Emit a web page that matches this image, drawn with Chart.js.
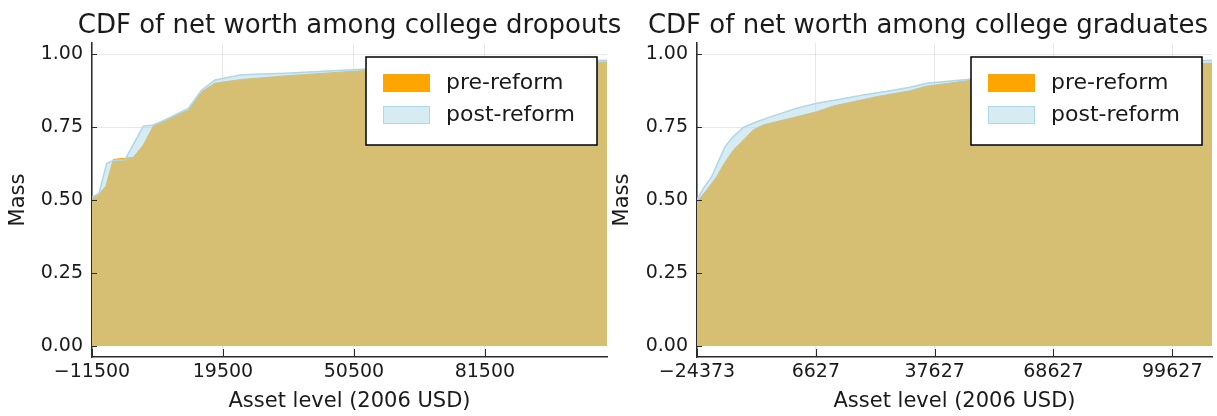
<!DOCTYPE html>
<html>
<head>
<meta charset="utf-8">
<title>CDF of net worth</title>
<script src="https://cdn.jsdelivr.net/npm/chart.js@4.4.1/dist/chart.umd.min.js"></script>
<style>
  html, body { margin: 0; padding: 0; background: #ffffff; }
  #wrap { position: relative; width: 1217px; height: 416px; overflow: hidden; }
  canvas { position: absolute; top: 0; }
  #dropouts { left: 0; z-index: 1; }
  #graduates { left: 608px; z-index: 2; }
</style>
</head>
<body>
<div id="wrap">
  <canvas id="dropouts" width="640" height="416"></canvas>
  <canvas id="graduates" width="609" height="416"></canvas>
</div>
<script>
// ---- data: cumulative mass by asset level (2006 USD) ----
const dropoutPreAssets  = [-11500, -9600, -8260, -6460, -3690, -1730, 640, 2990, 5780, 11290, 14460, 17610, 23920, 34170, 52320, 70000, 90000, 110400];
const dropoutPreMass    = [0.509, 0.525, 0.546, 0.639, 0.643, 0.646, 0.688, 0.753, 0.774, 0.808, 0.871, 0.900, 0.913, 0.925, 0.943, 0.955, 0.965, 0.973];
const dropoutPostAssets = [-11500, -9900, -8020, -6460, -3690, 640, 2990, 5780, 11290, 14460, 17610, 23920, 34170, 52320, 70000, 90000, 110400];
const dropoutPostMass   = [0.511, 0.520, 0.626, 0.635, 0.638, 0.753, 0.757, 0.774, 0.814, 0.877, 0.911, 0.929, 0.934, 0.948, 0.962, 0.972, 0.979];

const graduatePreAssets  = [-24373, -21840, -19230, -17510, -14900, -12290, -9680, -7070, -1850, 2500, 6860, 11190, 17300, 22520, 31200, 35560, 46000, 70000, 90000, 110000];
const graduatePreMass    = [0.494, 0.534, 0.580, 0.620, 0.671, 0.705, 0.740, 0.757, 0.774, 0.788, 0.802, 0.822, 0.839, 0.854, 0.874, 0.890, 0.908, 0.940, 0.958, 0.969];
const graduatePostAssets = [-24373, -22730, -20540, -17070, -14900, -12290, -8795, -4460, 1640, 6860, 12940, 19020, 26000, 31200, 35560, 46000, 70000, 90000, 110000];
const graduatePostMass   = [0.500, 0.540, 0.580, 0.683, 0.717, 0.749, 0.768, 0.788, 0.814, 0.831, 0.845, 0.860, 0.874, 0.886, 0.900, 0.913, 0.952, 0.968, 0.979];

// ---- tick labels ----
const dropoutAssetTicks  = [-11500, 19500, 50500, 81500];
const graduateAssetTicks = [-24373, 6627, 37627, 68627, 99627];
const massTicks = [0, 0.25, 0.5, 0.75, 1.0];

const seriesLabels = ['pre-reform', 'post-reform'];

// ---- styling ----
const FONT = "'DejaVu Sans', 'Liberation Sans', sans-serif";
const TEXT = '#1a1a1a';
const AXIS = '#2b2b2b';
const GRID = 'rgba(0,0,0,0.09)';
const ORANGE = '#FFA500';
const BLUE = '#ADD8E6';
const BLUE_FILL = 'rgba(173,216,230,0.5)';

function assetLabel(v) {
  return v < 0 ? '\u2212' + Math.abs(v) : String(v);
}

function toPoints(xs, ys) {
  return xs.map((x, i) => ({ x: x, y: ys[i] }));
}

// title, inward tick marks and boxed legend for each panel
const panelPlugin = {
  id: 'panel',
  afterDatasetsDraw(chart) {
    const ctx = chart.ctx;
    const a = chart.chartArea;
    const xs = chart.scales.x, ys = chart.scales.y;
    ctx.save();
    ctx.strokeStyle = AXIS;
    ctx.lineWidth = 1;
    ctx.beginPath();
    xs.ticks.forEach(t => {
      const px = Math.round(xs.getPixelForValue(t.value)) + 0.5;
      ctx.moveTo(px, a.bottom);
      ctx.lineTo(px, a.bottom - 8);
    });
    ys.ticks.forEach(t => {
      const py = Math.round(ys.getPixelForValue(t.value)) + 0.5;
      ctx.moveTo(a.left, py);
      ctx.lineTo(a.left + 5, py);
    });
    ctx.stroke();
    ctx.restore();
  },
  afterDraw(chart, args, opts) {
    const ctx = chart.ctx;
    const a = chart.chartArea;
    ctx.save();
    // panel title
    ctx.font = '26px ' + FONT;
    ctx.fillStyle = TEXT;
    ctx.textBaseline = 'alphabetic';
    ctx.textAlign = 'center';
    const w = ctx.measureText(opts.title).width;
    let cx = (a.left + a.right) / 2;
    cx = Math.min(cx, chart.width - 9 - w / 2);
    ctx.fillText(opts.title, cx, 33);

    // legend box
    const bw = 231, bh = 88;
    const bx = a.right - 10 - bw, by = a.top + 14;
    ctx.fillStyle = '#ffffff';
    ctx.fillRect(bx, by, bw, bh);
    ctx.strokeStyle = '#000000';
    ctx.lineWidth = 1.5;
    ctx.strokeRect(bx, by, bw, bh);
    ctx.font = '22px ' + FONT;
    ctx.textAlign = 'left';
    ctx.textBaseline = 'middle';
    const rows = [by + 26, by + 58];
    chart.data.datasets.forEach((ds, i) => {
      const cy = rows[i];
      ctx.fillStyle = '#ffffff';
      ctx.fillRect(bx + 17, cy - 9, 47, 18);
      ctx.fillStyle = ds.backgroundColor;
      ctx.fillRect(bx + 17, cy - 9, 47, 18);
      ctx.strokeStyle = ds.borderColor;
      ctx.lineWidth = 1;
      ctx.strokeRect(bx + 17.5, cy - 8.5, 46, 17);
      ctx.fillStyle = TEXT;
      ctx.fillText(ds.label, bx + 80, cy);
    });
    ctx.restore();
  }
};

function buildPanel(id, spec) {
  return new Chart(document.getElementById(id), {
    type: 'line',
    data: {
      datasets: [
        { label: seriesLabels[0], data: toPoints(spec.preX, spec.preY), order: 1,
          fill: 'origin', backgroundColor: ORANGE, borderColor: ORANGE,
          borderWidth: 1, pointRadius: 0, tension: 0 },
        { label: seriesLabels[1], data: toPoints(spec.postX, spec.postY), order: 0,
          fill: 'origin', backgroundColor: BLUE_FILL, borderColor: BLUE,
          borderWidth: 1.5, pointRadius: 0, tension: 0 }
      ]
    },
    options: {
      responsive: false,
      animation: false,
      events: [],
      layout: { padding: { top: 43, right: spec.padRight, left: 0, bottom: 0 } },
      plugins: {
        legend: { display: false },
        tooltip: { enabled: false },
        panel: { title: spec.title }
      },
      scales: {
        x: {
          type: 'linear',
          min: spec.xMin,
          max: spec.xMax,
          afterBuildTicks: s => { s.ticks = spec.xTicks.map(v => ({ value: v })); },
          afterFit: s => { s.height = 59; },
          ticks: { font: { family: FONT, size: 19 }, color: TEXT, padding: 4,
                   maxRotation: 0, autoSkip: false, callback: v => assetLabel(v) },
          grid: { color: GRID, lineWidth: 1, drawTicks: false },
          border: { display: true, color: AXIS, width: 1.5 },
          title: { display: true, text: 'Asset level (2006 USD)', color: TEXT,
                   font: { family: FONT, size: 21 }, padding: { top: 0, bottom: 2 } }
        },
        y: {
          type: 'linear',
          min: -0.0377,
          max: 1.0377,
          afterBuildTicks: s => { s.ticks = massTicks.map(v => ({ value: v })); },
          afterFit: s => { s.width = spec.yWidth; },
          ticks: { font: { family: FONT, size: 19 }, color: TEXT, padding: 9,
                   autoSkip: false, callback: v => Number(v).toFixed(2) },
          grid: { color: GRID, lineWidth: 1, drawTicks: false },
          border: { display: true, color: AXIS, width: 1.5 },
          title: { display: true, text: 'Mass', color: TEXT,
                   font: { family: FONT, size: 21 }, padding: { top: spec.yTitlePad, bottom: 0 } }
        }
      }
    },
    plugins: [panelPlugin]
  });
}

buildPanel('dropouts', {
  title: 'CDF of net worth among college dropouts',
  preX: dropoutPreAssets, preY: dropoutPreMass,
  postX: dropoutPostAssets, postY: dropoutPostMass,
  xMin: -11500, xMax: 110400, xTicks: dropoutAssetTicks,
  yWidth: 92, padRight: 33, yTitlePad: 6
});

buildPanel('graduates', {
  title: 'CDF of net worth among college graduates',
  preX: graduatePreAssets, preY: graduatePreMass,
  postX: graduatePostAssets, postY: graduatePostMass,
  xMin: -24373, xMax: 110000, xTicks: graduateAssetTicks,
  yWidth: 89, padRight: 5, yTitlePad: 1.5
});
</script>
</body>
</html>
